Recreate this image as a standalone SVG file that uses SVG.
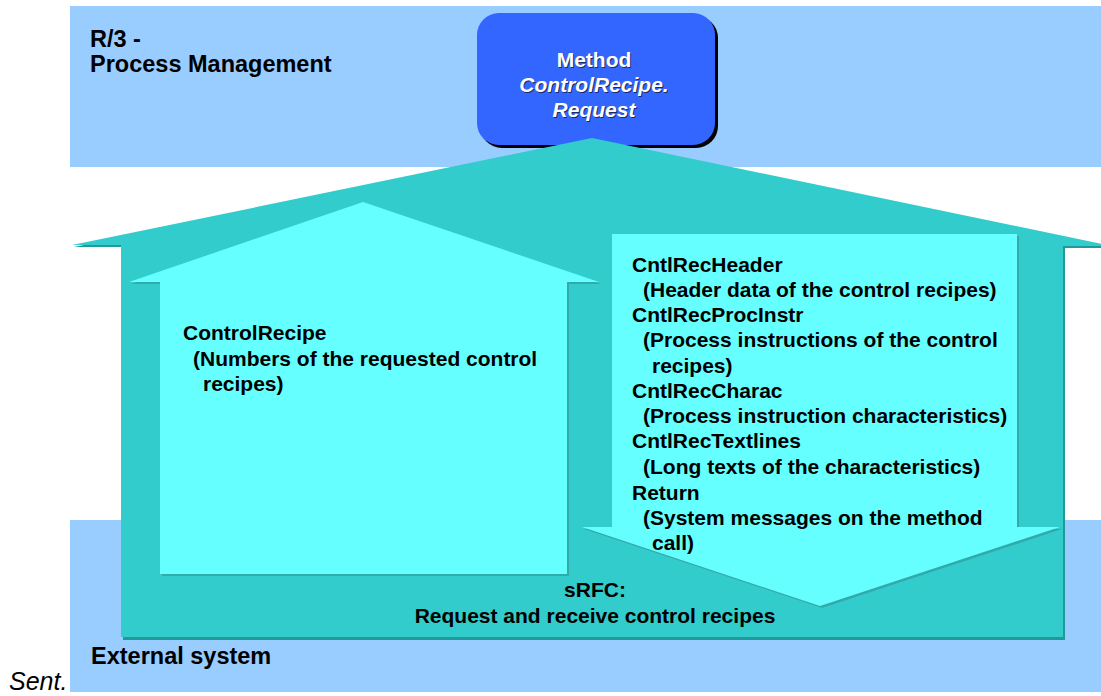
<svg xmlns="http://www.w3.org/2000/svg" width="1101" height="696" viewBox="0 0 1101 696">
<style>
.band{fill:#99CCFF}
.teal{fill:#33CCCC}
.tealsh{fill:#229999}
.cyan{fill:#66FFFF}
.cyansh{fill:#33AAAA}
.t{font-family:"Liberation Sans",Arial,sans-serif;font-weight:bold;font-size:21px;fill:#000}
.lbl{font-family:"Liberation Sans",Arial,sans-serif;font-weight:bold;font-size:23.5px;fill:#000}
.w{font-family:"Liberation Sans",Arial,sans-serif;font-weight:bold;font-size:21px;fill:#fff}
.ws{font-family:"Liberation Sans",Arial,sans-serif;font-weight:bold;font-size:21px;fill:#1a2a66}
</style>
<rect width="1101" height="696" fill="#fff"/>
<g id="r3-band">
<rect class="band" x="70" y="6" width="1031" height="161"/>
<text class="lbl" x="90" y="47">R/3 -</text>
<text class="lbl" x="90" y="72">Process Management</text>
</g>
<g id="external-band">
<rect class="band" x="70" y="520" width="1031" height="172"/>
</g>
<g id="method">
<rect x="480" y="16" width="238" height="132" rx="22" fill="#000"/>
<rect x="477" y="13" width="238" height="132" rx="22" fill="#3366FF"/>
<g text-anchor="middle">
<text class="ws" x="595" y="68">Method</text>
<text class="ws" x="595" y="93" font-style="italic">ControlRecipe.</text>
<text class="ws" x="595" y="118" font-style="italic">Request</text>
<text class="w" x="594" y="67">Method</text>
<text class="w" x="594" y="92" font-style="italic">ControlRecipe.</text>
<text class="w" x="594" y="117" font-style="italic">Request</text>
</g>
</g>
<g id="srfc">
<path class="tealsh" d="M74,247 L592,140 L1112,248 L1065,248 L1065,640 L123,640 L123,247 Z"/>
<path class="teal" d="M72,245 L592,138 L1112,246 L1063,246 L1063,637 L121,637 L121,245 Z"/>
<g text-anchor="middle">
<text class="t" x="595" y="597">sRFC:</text>
<text class="t" x="595" y="623">Request and receive control recipes</text>
</g>
</g>
<g id="controlrecipe">
<path class="cyansh" d="M131,284 L363,204 L601,284 L569,284 L569,576 L162,576 L162,284 Z"/>
<path class="cyan" d="M129,282 L363,202 L599,282 L567,282 L567,574 L160,574 L160,282 Z"/>
<text class="t" x="183" y="340">ControlRecipe</text>
<text class="t" x="193" y="366">(Numbers of the requested control</text>
<text class="t" x="203" y="391">recipes)</text>
</g>
<g id="results">
<path class="cyansh" d="M614,236 L1019,236 L1019,529 L1062,529 L822,608 L584,529 L614,529 Z"/>
<path class="cyan" d="M612,234 L1017,234 L1017,527 L1060,527 L820,606 L582,527 L612,527 Z"/>
<text class="t" x="632" y="272">CntlRecHeader</text>
<text class="t" x="643" y="297">(Header data of the control recipes)</text>
<text class="t" x="632" y="322">CntlRecProcInstr</text>
<text class="t" x="643" y="347">(Process instructions of the control</text>
<text class="t" x="652" y="373">recipes)</text>
<text class="t" x="632" y="398">CntlRecCharac</text>
<text class="t" x="643" y="423">(Process instruction characteristics)</text>
<text class="t" x="632" y="448">CntlRecTextlines</text>
<text class="t" x="643" y="474">(Long texts of the characteristics)</text>
<text class="t" x="632" y="500">Return</text>
<text class="t" x="643" y="525">(System messages on the method</text>
<text class="t" x="652" y="550">call)</text>
</g>
<text class="lbl" x="91" y="664">External system</text>
<text x="9" y="690" font-family="Liberation Sans,Arial,sans-serif" font-style="italic" font-size="25" fill="#000">Sent.</text>
</svg>
